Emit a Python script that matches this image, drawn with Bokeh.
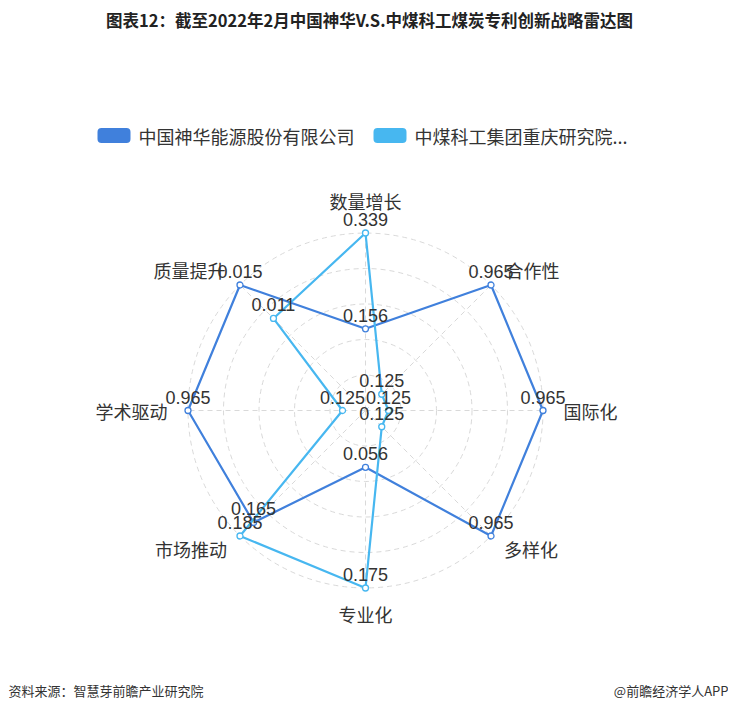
import math
from bokeh.plotting import figure
from bokeh.models import Range1d
from bokeh.core.properties import value
from bokeh.embed import file_html
from bokeh.resources import INLINE

# ---------------- data ----------------
title_text = "图表12：截至2022年2月中国神华V.S.中煤科工煤炭专利创新战略雷达图"
indicators = ["数量增长", "合作性", "国际化", "多样化", "专业化", "市场推动", "学术驱动", "质量提升"]
series_names = ["中国神华能源股份有限公司", "中煤科工集团重庆研究院..."]
shenhua = [0.156, 0.965, 0.965, 0.965, 0.056, 0.165, 0.965, 0.015]
zhongmei = [0.339, 0.125, 0.125, 0.125, 0.175, 0.185, 0.125, 0.011]
source_text = "资料来源：智慧芽前瞻产业研究院"
brand_text = "@前瞻经济学人APP"

# ---------------- style ----------------
colors = ["#4080dc", "#47b7f0"]
CJK = "Noto Sans CJK SC"
NUM = "Liberation Sans"
TXT = "#333333"
W, H = 728, 703


def pg(x, y):
    """picture pixel -> data coordinates"""
    return x, H - y


p = figure(width=W, height=H, x_range=Range1d(0, W), y_range=Range1d(0, H),
           output_backend="svg", toolbar_location=None, min_border=0,
           x_axis_type=None, y_axis_type=None)
p.grid.visible = False
p.outline_line_color = None
p.background_fill_color = "white"
p.border_fill_color = "white"

cx, cy = pg(365, 410)
R = 177.5
n = len(indicators)
angles = [math.pi / 2 - 2 * math.pi * i / n for i in range(n)]
maxes = [max(a, b) for a, b in zip(shenhua, zhongmei)]

# grid circles
splits = 5
p.circle(x=[cx] * splits, y=[cy] * splits, radius=[R * (k + 1) / splits for k in range(splits)],
         fill_color=None, line_color="#d9d9d9", line_width=1, line_dash="5 4")
# radial axis lines
p.multi_line(xs=[[cx, cx + R * math.cos(a)] for a in angles],
             ys=[[cy, cy + R * math.sin(a)] for a in angles],
             line_color="#d9d9d9", line_width=1, line_dash="5 4")

# series
all_pts = []
for vals, col in zip([shenhua, zhongmei], colors):
    xs = [cx + R * v / m * math.cos(a) for v, m, a in zip(vals, maxes, angles)]
    ys = [cy + R * v / m * math.sin(a) for v, m, a in zip(vals, maxes, angles)]
    p.line(xs + xs[:1], ys + ys[:1], line_color=col, line_width=2.2)
    p.scatter(xs, ys, size=6, fill_color="white", line_color=col, line_width=1.3)
    all_pts.append((xs, ys, vals))

for xs, ys, vals in all_pts:
    p.text(x=xs, y=ys, text=[f"{v:.3f}" for v in vals],
           text_font=value(NUM), text_font_size="18px", text_color=TXT,
           text_align="center", text_baseline="bottom", y_offset=-7)

# indicator names
for name, a in zip(indicators, angles):
    c, s = math.cos(a), math.sin(a)
    align = "left" if c > 0.01 else ("right" if c < -0.01 else "center")
    base = "middle"
    rn = 198
    if abs(c) <= 0.01:
        base = "bottom" if s > 0 else "top"
        rn = 197 if s > 0 else 190
    elif s < -0.01:
        rn = 196
    p.text(x=[cx + rn * c], y=[cy + rn * s], text=[name], text_font=value(CJK),
           text_font_size="18px", text_color=TXT, text_align=align, text_baseline=base)

# title
tx, ty = pg(369, 19)
p.text(x=[tx], y=[ty], text=[title_text], text_font=value(CJK), text_font_size="16.5px",
       text_font_style="bold", text_color="#222222", text_align="center", text_baseline="middle")

# legend
legend_x = [97, 373]
for i, (nm, col) in enumerate(zip(series_names, colors)):
    lx, ly = pg(legend_x[i], 135)
    p.quad(left=[lx], right=[lx + 33], bottom=[ly - 7.5], top=[ly + 7.5],
           fill_color=col, line_color=None, border_radius=4)
    p.text(x=[lx + 41], y=[ly], text=[nm], text_font=value(CJK), text_font_size="18px",
           text_color=TXT, text_align="left", text_baseline="middle")

# footer
fx, fy = pg(8, 690)
p.text(x=[fx], y=[fy], text=[source_text], text_font=value(CJK), text_font_size="13px",
       text_color=TXT, text_align="left", text_baseline="middle")
bx, by = pg(728, 690)
p.text(x=[bx], y=[by], text=[brand_text], text_font=value(CJK), text_font_size="13px",
       text_color=TXT, text_align="right", text_baseline="middle")

open("out.html", "w").write(file_html(p, INLINE))
